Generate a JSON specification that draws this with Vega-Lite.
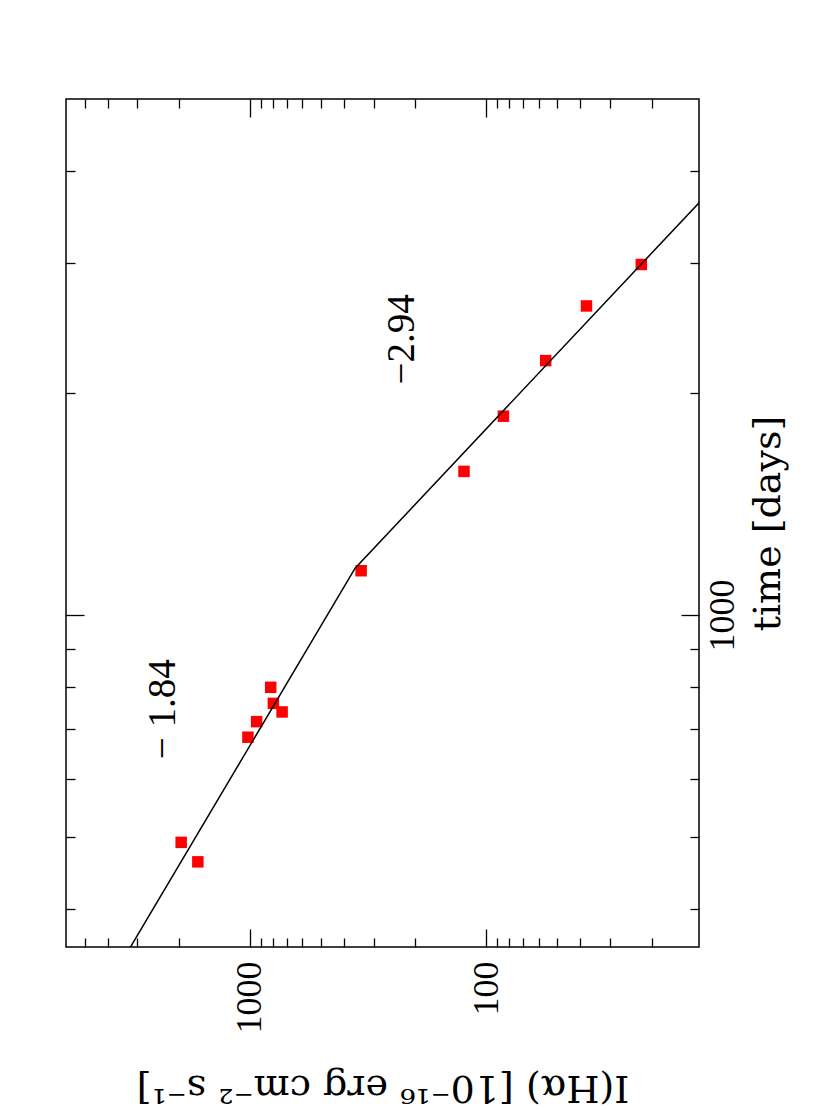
{
  "$schema": "https://vega.github.io/schema/vega-lite/v6.json",
  "width": 633,
  "height": 848,
  "autosize": "none",
  "padding": {"left": 66, "top": 99, "right": 131, "bottom": 164},
  "background": "white",
  "config": {
    "view": {"stroke": "black", "strokeWidth": 1.5},
    "axis": {
      "domain": false,
      "grid": false,
      "labelFont": "Liberation Serif",
      "titleFont": "DejaVu Serif",
      "labelColor": "black",
      "titleColor": "black",
      "tickColor": "black",
      "tickWidth": 1.3,
      "labelFontSize": 36,
      "titleFontSize": 38,
      "titleFontWeight": "normal",
      "labelOverlap": false,
      "labelFlush": false
    }
  },
  "datasets": {
    "obs": [
      {"time": 2984, "flux": 22.1},
      {"time": 2622, "flux": 37.7},
      {"time": 2211, "flux": 56.1},
      {"time": 1859, "flux": 84.7},
      {"time": 1565, "flux": 124.3},
      {"time": 1148, "flux": 338.6},
      {"time": 798, "flux": 817},
      {"time": 759, "flux": 796},
      {"time": 739, "flux": 731},
      {"time": 717, "flux": 937},
      {"time": 683, "flux": 1020},
      {"time": 492, "flux": 1954},
      {"time": 463, "flux": 1661}
    ],
    "fit": [
      {"time": 340, "flux": 3468},
      {"time": 1157, "flux": 359},
      {"time": 3800, "flux": 10.9}
    ],
    "notes": [
      {"time": 745, "flux": 2080, "label": "− 1.84"},
      {"time": 2362, "flux": 202, "label": "−2.94"}
    ]
  },
  "layer": [
    {
      "data": {"name": "obs"},
      "mark": {"type": "point", "shape": "square", "filled": true, "size": 132, "color": "#ff0000", "opacity": 1, "strokeWidth": 0},
      "encoding": {
        "x": {
          "field": "flux", "type": "quantitative",
          "scale": {"type": "log", "domain": [12.6, 6000], "reverse": true, "nice": false, "zero": false},
          "axis": {
            "orient": "bottom",
            "values": [20, 30, 40, 50, 60, 70, 80, 90, 100, 200, 300, 400, 500, 600, 700, 800, 900, 1000, 2000, 3000, 4000, 5000],
            "tickSize": {"condition": {"test": "datum.value == 100 || datum.value == 1000", "value": -18}, "value": -9},
            "labelExpr": "datum.value == 1000 ? '1000' : datum.value == 100 ? '100' : ''",
            "labelAngle": 270,
            "labelAlign": "right",
            "labelBaseline": "middle",
            "labelPadding": 32,
            "title": "I(Hα) [10⁻¹⁶ erg cm⁻² s⁻¹]",
            "titleAngle": 180,
            "titleBaseline": "alphabetic",
            "titlePadding": 42
          }
        },
        "y": {
          "field": "time", "type": "quantitative",
          "scale": {"type": "log", "domain": [355, 5000], "nice": false, "zero": false},
          "axis": {
            "orient": "right",
            "values": [400, 500, 600, 700, 800, 900, 1000, 2000, 3000, 4000],
            "tickSize": {"condition": {"test": "datum.value == 1000", "value": -18}, "value": -9},
            "labelExpr": "datum.value == 1000 ? '1000' : ''",
            "labelAngle": 270,
            "labelAlign": "center",
            "labelBaseline": "top",
            "labelPadding": 24,
            "title": "time [days]",
            "titleAngle": 270,
            "titleBaseline": "top",
            "titlePadding": 0
          }
        }
      }
    },
    {
      "data": {"name": "fit"},
      "mark": {"type": "line", "color": "black", "strokeWidth": 1.5, "clip": true},
      "encoding": {
        "x": {
          "field": "flux", "type": "quantitative",
          "scale": {"type": "log", "domain": [12.6, 6000], "reverse": true, "nice": false, "zero": false},
          "axis": {
            "orient": "top",
            "values": [20, 30, 40, 50, 60, 70, 80, 90, 100, 200, 300, 400, 500, 600, 700, 800, 900, 1000, 2000, 3000, 4000, 5000],
            "tickSize": {"condition": {"test": "datum.value == 100 || datum.value == 1000", "value": -18}, "value": -9},
            "labels": false,
            "title": null
          }
        },
        "y": {
          "field": "time", "type": "quantitative",
          "scale": {"type": "log", "domain": [355, 5000], "nice": false, "zero": false},
          "axis": {
            "orient": "left",
            "values": [400, 500, 600, 700, 800, 900, 1000, 2000, 3000, 4000],
            "tickSize": {"condition": {"test": "datum.value == 1000", "value": -18}, "value": -9},
            "labels": false,
            "title": null
          }
        }
      }
    },
    {
      "data": {"name": "notes"},
      "mark": {"type": "text", "angle": 270, "align": "center", "baseline": "alphabetic", "font": "Liberation Serif", "fontSize": 39, "color": "black"},
      "encoding": {
        "x": {"field": "flux", "type": "quantitative", "axis": null},
        "y": {"field": "time", "type": "quantitative", "axis": null},
        "text": {"field": "label"}
      }
    }
  ],
  "resolve": {"axis": {"x": "independent", "y": "independent"}}
}
